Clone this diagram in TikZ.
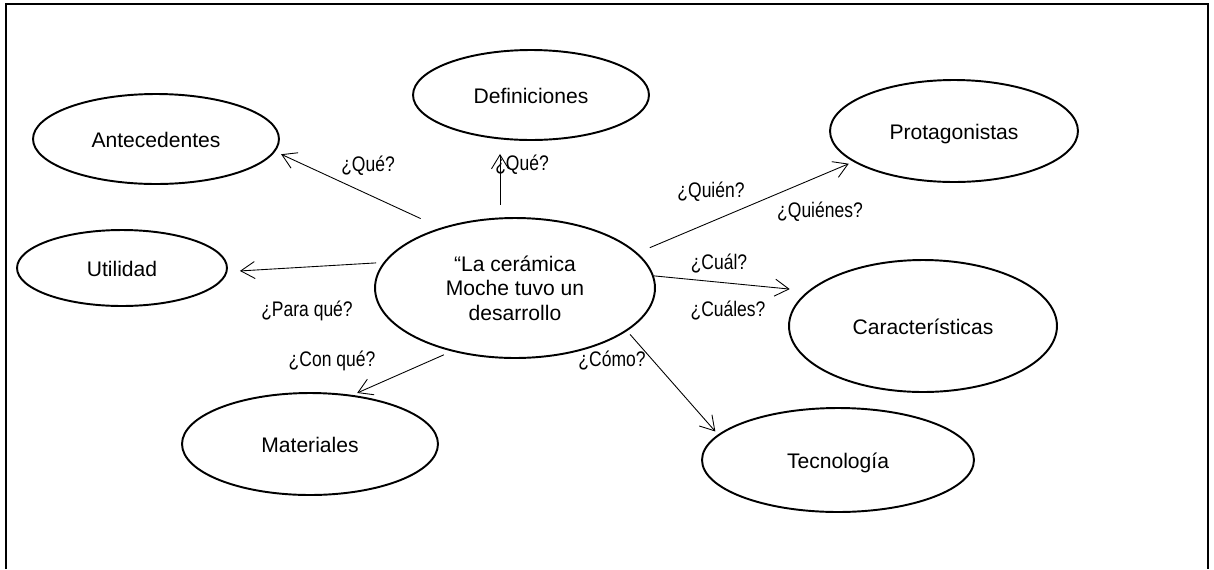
\documentclass[tikz,border=0pt]{standalone}
\usepackage{fontspec}
\setmainfont{Liberation Sans}
\newfontfamily\narrowfont[FakeStretch=0.83]{Liberation Sans}
\usetikzlibrary{shapes.geometric,arrows.meta}

\begin{document}
\begin{tikzpicture}[x=0.02cm, y=-0.02cm,
    bubble/.style={draw, ellipse, line width=1.1pt, font=\fontsize{12}{14}\selectfont},
    topic/.style={bubble, text height=1em, text depth=0pt},
    ask/.style={font=\narrowfont\fontsize{12}{14}\selectfont, inner sep=0pt},
    link/.style={-{Straight Barb[length=0.28cm,width=0.34cm]}, line width=0.5pt}]
  \useasboundingbox (0,0) rectangle (1214,569);
  % frame, open at the bottom
  \draw[line width=1.1pt] (6,569) -- (6,4) -- (1208,4) -- (1208,569);

  \node[bubble, minimum width=5.6cm, minimum height=2.8cm, align=center] at (515,288) (core) {“La cerámica\\Moche tuvo un\\desarrollo};
  \node[topic, minimum width=4.92cm, minimum height=1.8cm] at (156,139) (ante) {Antecedentes};
  \node[topic, minimum width=4.72cm, minimum height=1.8cm] at (531,95) (defs) {Definiciones};
  \node[topic, minimum width=4.96cm, minimum height=2.04cm] at (954,131) (prot) {Protagonistas};
  \node[topic, minimum width=4.2cm, minimum height=1.52cm] at (122,268) (util) {Utilidad};
  \node[topic, minimum width=5.36cm, minimum height=2.64cm] at (923,326) (cara) {Características};
  \node[topic, minimum width=5.12cm, minimum height=2.04cm] at (310,444) (mate) {Materiales};
  \node[topic, minimum width=5.44cm, minimum height=2.08cm] at (838,460) (tecn) {Tecnología};

  \draw[link, shorten <=0.44cm, shorten >=0.13cm] (core.141.6) -- (ante.-6.4);
  \draw[link, shorten <=0.25cm, shorten >=0.26cm] (core.102) -- (core.102 |- defs.south);
  \draw[link, shorten <=0.27cm, shorten >=0.1cm] (core.16.7) -- (prot.197.1);
  \draw[link, shorten >=0.37cm] (core.5.8) -- (cara.163.7);
  \draw[link, shorten <=0.15cm, shorten >=0.25cm] (core.169.3) -- (util.-2.4);
  \draw[link, shorten <=0.17cm, shorten >=0.1cm] (core.225.8) -- (mate.49.1);
  \draw[link, shorten <=0.09cm, shorten >=0.08cm] (core.-21.5) -- (tecn.168.1);

  % questions
  \node[ask] at (368,166) (qante) {¿Qué?};
  \node[ask] at (522,165) (qdefs) {¿Qué?};
  \node[ask] at (711,192) (qquien) {¿Quién?};
  \node[ask] at (820,212) (qquienes) {¿Quiénes?};
  \node[ask] at (719,264) (qcual) {¿Cuál?};
  \node[ask] at (728,311) (qcuales) {¿Cuáles?};
  \node[ask] at (307,311) (qpara) {¿Para qué?};
  \node[ask] at (332,361) (qcon) {¿Con qué?};
  \node[ask] at (612,361) (qcomo) {¿Cómo?};
\end{tikzpicture}
\end{document}
